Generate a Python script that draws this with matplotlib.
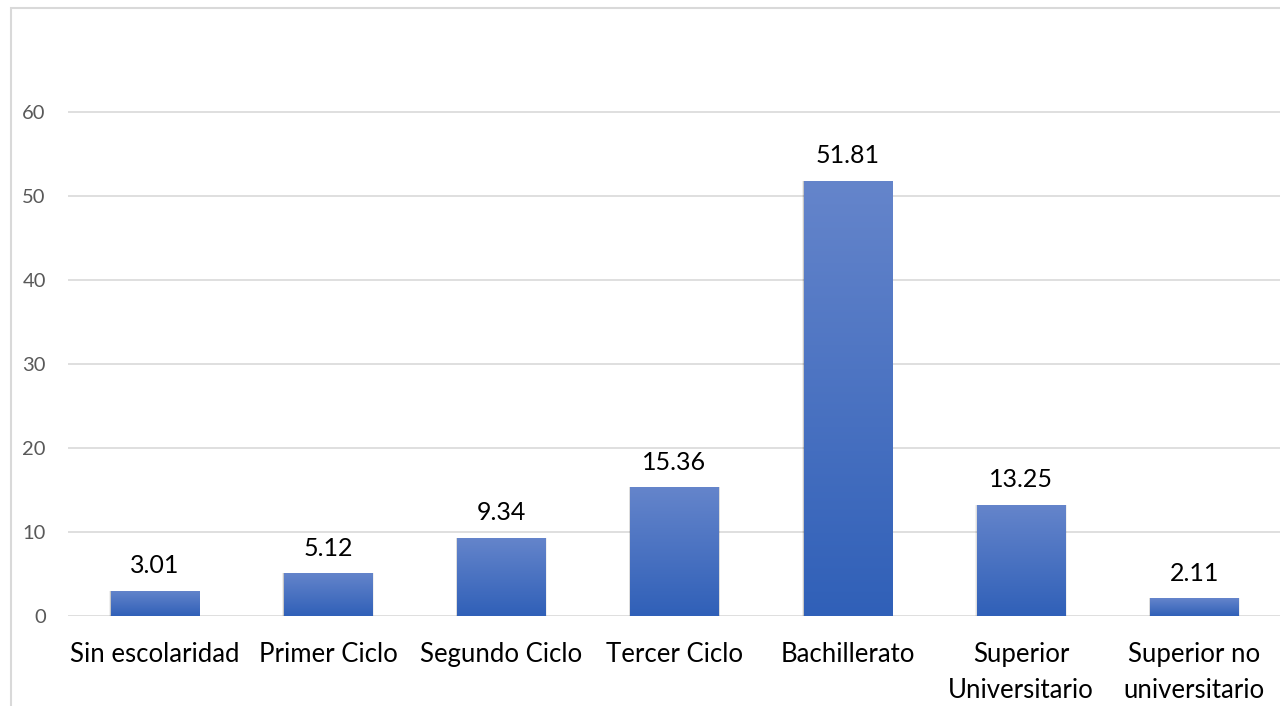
import matplotlib
matplotlib.use("Agg")
import matplotlib.pyplot as plt
import numpy as np
from matplotlib.patches import Rectangle
from matplotlib.colors import LinearSegmentedColormap

categories = ["Sin escolaridad", "Primer Ciclo", "Segundo Ciclo", "Tercer Ciclo",
              "Bachillerato", "Superior\nUniversitario", "Superior no\nuniversitario"]
values = [3.01, 5.12, 9.34, 15.36, 51.81, 13.25, 2.11]
value_labels = ["3.01", "5.12", "9.34", "15.36", "51.81", "13.25", "2.11"]
yticks = [0, 10, 20, 30, 40, 50, 60]

plt.rcParams['font.family'] = ['Lato', 'DejaVu Sans']

fig = plt.figure(figsize=(12.8, 7.06), dpi=100)
# chart border
fig.patches.append(Rectangle((11/1280, -0.1), 1.2, (706-8)/706 + 0.1, transform=fig.transFigure,
                             fill=False, edgecolor="#d9d9d9", linewidth=1.5, zorder=0))

ax = fig.add_axes([68/1280, (706-616)/706, 1213/1280, (616-28)/706])
ax.set_xlim(-0.5, len(categories) - 0.5)
ax.set_ylim(0, 70)
for s in ax.spines.values():
    s.set_visible(False)
ax.set_yticks(yticks)
ax.set_yticklabels([str(t) for t in yticks], color="#595959", fontsize=14.5)
ax.tick_params(axis="y", length=0, pad=16)
ax.set_xticks(range(len(categories)))
ax.set_xticklabels(categories, fontsize=18.5, color="#000000", linespacing=1.55)
ax.tick_params(axis="x", length=0, pad=19)
for t in yticks:
    ax.axhline(t, color="#d9d9d9", linewidth=1.2, zorder=1)

cmap = LinearSegmentedColormap.from_list("g", ["#3060b8", "#6585cb"])
grad = np.linspace(0, 1, 256).reshape(-1, 1)
width = 0.508
for i, v in enumerate(values):
    x0 = i - width / 2
    # soft shadow
    for k, a in zip([0.06, 0.04, 0.02], [0.06, 0.08, 0.10]):
        ax.add_patch(Rectangle((x0 - k * 0.15, -0.35 - k * 2), width + k * 0.3, v + 0.35 + k * 2,
                               facecolor="#000000", alpha=a, edgecolor="none", zorder=2))
    bar = Rectangle((x0, 0), width, v, facecolor="none", edgecolor="none", zorder=3)
    ax.add_patch(bar)
    im = ax.imshow(grad, extent=[x0, x0 + width, 0, v], origin="lower", cmap=cmap,
                   aspect="auto", zorder=3, interpolation="bilinear")
    im.set_clip_path(bar)
    ax.annotate(value_labels[i], (i, v), xytext=(0, 12.5), textcoords="offset points",
                ha="center", va="baseline", fontsize=18, color="#000000", zorder=4)

ax.set_xlim(-0.5, len(categories) - 0.5)
ax.set_ylim(0, 70)
fig.savefig("out.png", dpi=100)
